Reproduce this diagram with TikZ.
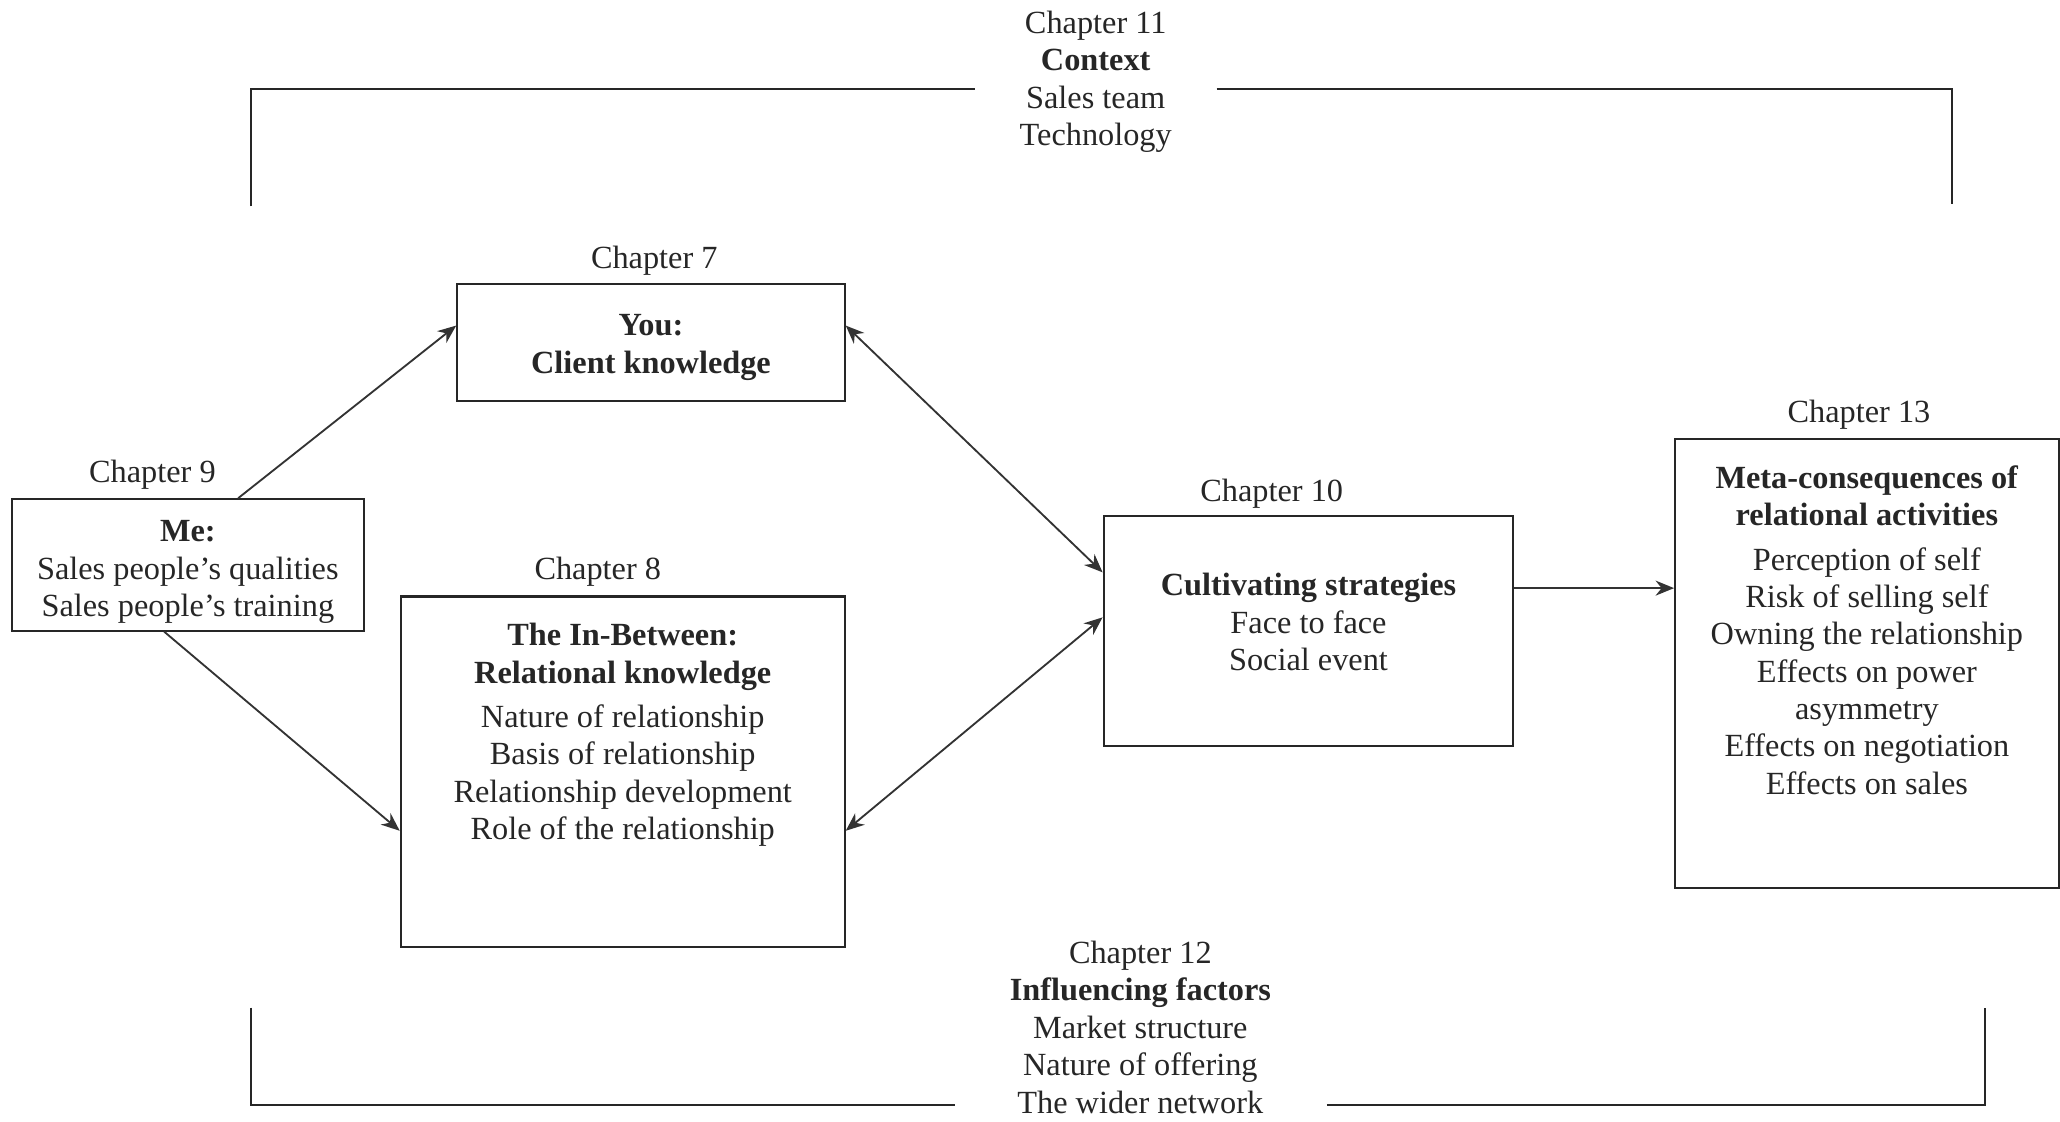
\documentclass[tikz,border=0pt]{standalone}
\usepackage{fontspec}
\setmainfont{Liberation Serif}
\usetikzlibrary{arrows.meta,calc}
\begin{document}
\begin{tikzpicture}[x=0.02cm,y=-0.02cm,
  box/.style={draw=black!85, line width=0.9pt, inner sep=0pt},
  txt/.style={align=center, inner sep=0pt, anchor=north, text=black!85,
    font=\fontsize{14}{16.2}\selectfont},
  arr/.style={draw=black!80, line width=0.8pt, -{Stealth[length=8pt,width=6.5pt]}},
  biarr/.style={draw=black!80, line width=0.8pt, {Stealth[length=8pt,width=6.5pt]}-{Stealth[length=8pt,width=6.5pt]}},
  brk/.style={draw=black!85, line width=0.9pt}]
\useasboundingbox (0,0) rectangle (1568,853.4);

% boxes
\node[box, minimum width=5.9cm, minimum height=1.78cm] (you) at (495.5,260.5) {};
\node[box, minimum width=5.36cm, minimum height=2.0cm] (me) at (143,430) {};
\node[box, minimum width=6.76cm, minimum height=5.34cm] (inb) at (474,587.5) {};
\node[box, minimum width=6.24cm, minimum height=3.5cm] (cult) at (996,480.5) {};
\node[box, minimum width=5.84cm, minimum height=6.84cm] (meta) at (1421,505) {};

% texts
\node[txt] (ch11) at (834,8) {Chapter 11\\\textbf{Context}\\Sales team\\Technology};
\node[txt] (ch7) at (498,187) {Chapter 7};
\node[txt] (youtxt) at (495.5,239) {\textbf{You:}\\\textbf{Client knowledge}};
\node[txt] (ch9) at (116,350) {Chapter 9};
\node[txt] (metxt) at (143,396) {\textbf{Me:}\\Sales people’s qualities\\Sales people’s training};
\node[txt] (ch8) at (455,424) {Chapter 8};
\node[txt] (inbtxt) at (474,474) {\textbf{The In-Between:}\\\textbf{Relational knowledge}\\[3pt]Nature of relationship\\Basis of relationship\\Relationship development\\Role of the relationship};
\node[txt] (ch10) at (968,364) {Chapter 10};
\node[txt] (culttxt) at (996,436) {\textbf{Cultivating strategies}\\Face to face\\Social event};
\node[txt] (ch13) at (1415,304) {Chapter 13};
\node[txt] (metatxt) at (1421,354) {\textbf{Meta-consequences of}\\\textbf{relational activities}\\[3pt]Perception of self\\Risk of selling self\\Owning the relationship\\Effects on power\\asymmetry\\Effects on negotiation\\Effects on sales};
\node[txt] (ch12) at (868,716) {Chapter 12\\\textbf{Influencing factors}\\Market structure\\Nature of offering\\The wider network};

% attachment points
\coordinate (meA) at ($(me.north west)!0.642!(me.north east)$);
\coordinate (meB) at ($(me.south west)!0.433!(me.south east)$);
\coordinate (youW) at ($(you.north west)!0.36!(you.south west)$);
\coordinate (youE) at ($(you.north east)!0.36!(you.south east)$);
\coordinate (inbW) at ($(inb.north west)!0.667!(inb.south west)$);
\coordinate (inbE) at ($(inb.north east)!0.667!(inb.south east)$);
\coordinate (cultA) at ($(cult.north west)!0.246!(cult.south west)$);
\coordinate (cultB) at ($(cult.north west)!0.44!(cult.south west)$);
\coordinate (cultE) at ($(cult.north east)!0.314!(cult.south east)$);
\coordinate (metaW) at (meta.west |- cultE);

% connectors
\draw[arr] (meA) -- (youW);
\draw[arr] (meB) -- (inbW);
\draw[biarr] (youE) -- (cultA);
\draw[biarr] (inbE) -- (cultB);
\draw[arr] (cultE) -- (metaW);

% brackets
\draw[brk] (191,157) -- (191,68) -- (742,68);
\draw[brk] (926,68) -- (1486,68) -- (1486,155);
\draw[brk] (191,767) -- (191,841) -- (727,841);
\draw[brk] (1010,841) -- (1511,841) -- (1511,767);
\end{tikzpicture}
\end{document}
